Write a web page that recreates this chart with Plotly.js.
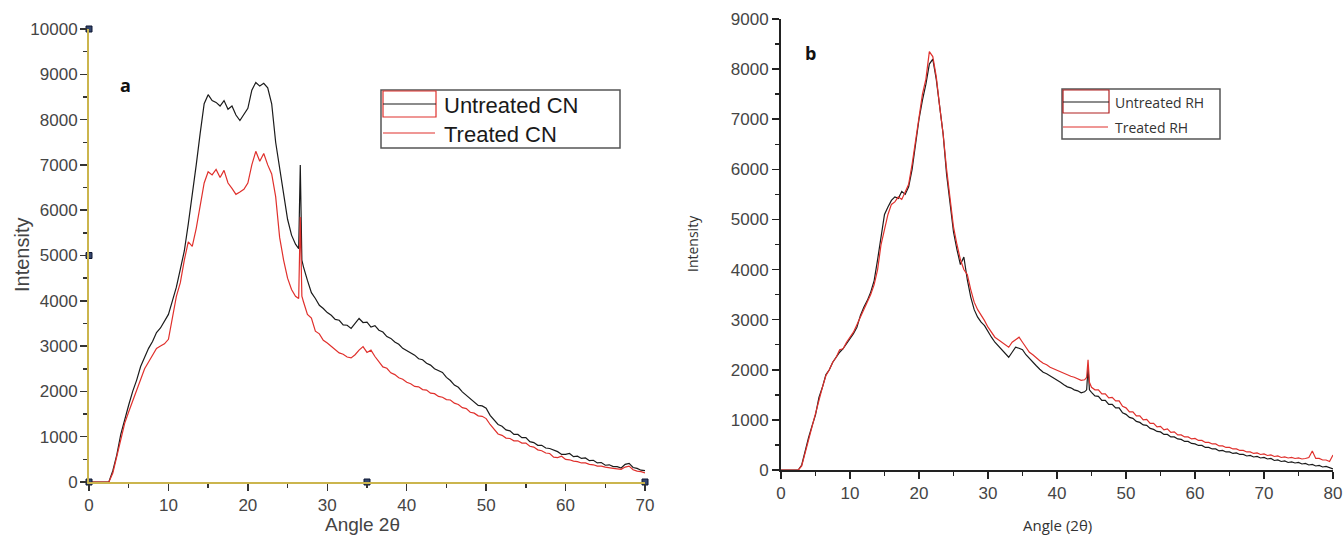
<!DOCTYPE html>
<html>
<head>
<meta charset="utf-8">
<script src="https://cdn.plot.ly/plotly-3.0.1.min.js"></script>
<style>html,body{margin:0;padding:0;background:#fff;}#chart{width:1343px;height:535px;}</style>
</head>
<body>
<div id="chart"></div>
<script>
// ---------- Panel a : CN ----------
const angleA = [0,0.5,1,1.5,2,2.5,3,3.5,4,4.5,5,5.5,6,6.5,7,7.5,8,8.5,9,9.5,10,10.5,11,11.5,12,12.5,13,13.5,14,14.5,15,15.5,16,16.5,17,17.5,18,18.5,19,19.5,20,20.5,21,21.5,22,22.5,23,23.5,24,24.5,25,25.5,26,26.4,26.6,26.8,27,27.5,28,28.5,29,29.5,30,30.5,31,31.5,32,32.5,33,33.5,34,34.5,35,35.5,36,36.5,37,37.5,38,38.5,39,39.5,40,40.5,41,41.5,42,42.5,43,43.5,44,44.5,45,45.5,46,46.5,47,47.5,48,48.5,49,49.5,50,50.5,51,51.5,52,52.5,53,53.5,54,54.5,55,55.5,56,56.5,57,57.5,58,58.5,59,59.5,60,60.5,61,61.5,62,62.5,63,63.5,64,64.5,65,65.5,66,66.5,67,67.5,68,68.5,69,69.5,70];
const untreatedCN = [0,0,0,0,0,0,250,600,1050,1400,1700,2000,2250,2550,2750,2950,3100,3300,3400,3550,3700,4000,4300,4700,5100,5700,6300,7000,7700,8350,8550,8420,8380,8300,8420,8230,8300,8100,7980,8120,8250,8650,8820,8740,8800,8700,8350,7500,6900,6400,5800,5450,5250,5150,7000,4900,4750,
  4450,4180,4050,3900,3830,3740,3680,3590,3570,3470,
  3460,3390,3500,3610,3520,3530,3420,3450,3350,3310,
  3210,3170,3090,3040,2950,2900,2840,2800,2720,2700,
  2620,2580,2500,2460,2420,2310,2240,2140,2090,1990,
  1920,1830,1780,1690,1680,1630,1470,1370,1270,1230,
  1150,1130,1050,1050,980,980,890,870,810,810,
  750,740,700,670,610,610,630,560,570,520,
  530,470,480,420,430,370,380,340,340,310,
  390,410,320,300,260,250];
const treatedCN = [0,0,0,0,0,0,200,550,950,1300,1550,1800,2050,2300,2500,2650,2800,2950,3000,3050,3150,3600,4100,4400,4900,5300,5200,5600,6100,6600,6850,6780,6900,6720,6880,6600,6480,6350,6400,6460,6600,7000,7300,7080,7250,7000,6800,6300,5400,4900,4500,4250,4100,4050,5850,4100,3980,
  3700,3620,3330,3270,3130,3070,2990,2910,2850,2820,
  2760,2740,2810,2910,2990,2860,2910,2770,2660,2540,
  2510,2410,2370,2300,2270,2200,2170,2110,2100,2040,
  2030,1960,1950,1890,1870,1820,1810,1740,1710,1640,
  1620,1540,1520,1460,1450,1400,1270,1160,1060,1030,
  970,960,910,910,860,860,790,770,710,690,
  640,630,550,540,570,500,490,460,450,420,
  420,390,380,350,350,330,310,300,290,280,
  330,350,270,240,230,200];
const handleX = [0,0,0,35,70];
const handleY = [10000,5000,0,0,0];

// ---------- Panel b : RH ----------
const angleB = [0,0.5,1,1.5,2,2.5,3,3.5,4,4.5,5,5.5,6,6.5,7,7.5,8,8.5,9,9.5,10,10.5,11,11.5,12,12.5,13,13.5,14,14.5,15,15.5,16,16.5,17,17.5,18,18.5,19,19.5,20,20.5,21,21.5,22,22.5,23,23.5,24,24.5,25,25.5,26,26.5,27,27.5,28,28.5,29,29.5,30,30.5,31,31.5,32,32.5,33,33.5,34,34.5,35,35.5,36,36.5,37,37.5,38,38.5,39,39.5,40,40.5,41,41.5,42,42.5,43,43.5,44,44.3,44.5,44.7,45,45.5,46,46.5,47,47.5,48,48.5,49,49.5,50,50.5,51,51.5,52,52.5,53,53.5,54,54.5,55,55.5,56,56.5,57,57.5,58,58.5,59,59.5,60,60.5,61,61.5,62,62.5,63,63.5,64,64.5,65,65.5,66,66.5,67,67.5,68,68.5,69,69.5,70,70.5,71,71.5,72,72.5,73,73.5,74,74.5,75,75.5,76,76.5,77,77.5,78,78.5,79,79.5,80];
const untreatedRH = [0,0,0,0,0,0,100,400,650,880,1100,1450,1650,1900,2000,2150,2250,2350,2420,2520,2600,2720,2850,3080,3250,3380,3550,3780,4200,4700,5100,5250,5380,5450,5420,5560,5500,5650,6000,6500,7000,7380,7700,8100,8200,7800,7200,6700,5900,5300,4750,4400,4100,4250,3800,3450,3200,3050,2950,2880,2750,2650,2550,2480,2400,2330,2250,2350,2450,2430,2400,2300,2220,2150,2080,2010,1950,1920,1880,1840,1800,1750,1700,1660,1640,1600,1580,1540,1560,1600,2050,1600,
  1550,1480,1470,1390,1390,1310,1310,1240,1240,1140,
  1110,1050,1030,970,950,900,890,830,810,770,
  760,710,710,660,660,620,610,570,570,530,
  520,490,490,450,450,420,420,380,390,360,
  360,330,340,310,310,280,290,260,270,240,
  250,220,230,190,200,170,180,150,160,140,
  150,120,130,100,110,80,90,60,70,40,
  20];
const treatedRH = [0,0,0,0,0,0,80,350,600,850,1100,1400,1650,1880,2000,2150,2250,2400,2420,2550,2650,2750,2900,3050,3200,3350,3500,3700,4000,4500,4800,5100,5300,5350,5450,5400,5550,5700,6100,6600,7100,7500,7800,8350,8250,7850,7250,6700,6000,5400,4850,4500,4200,4000,3900,3600,3350,3200,3100,2980,2850,2750,2650,2600,2550,2500,2450,2550,2600,2650,2550,2450,2350,2300,2230,2180,2130,2100,2050,2020,1980,1950,1930,1900,1870,1850,1820,1790,1800,1850,2200,1750,
  1650,1600,1600,1520,1520,1440,1450,1380,1380,1270,
  1240,1160,1160,1080,1080,1000,1010,930,930,860,
  870,800,820,750,760,700,700,660,660,620,
  630,590,590,550,550,520,520,480,480,450,
  450,420,420,390,390,360,360,330,340,310,
  320,290,300,270,280,250,260,240,250,230,
  240,220,230,250,380,230,230,200,200,170,
  300];

const seriesNames = ['Untreated CN','Treated CN','Untreated RH','Treated RH'];

// ---------- helpers (layout positions in pixels -> paper) ----------
const W = 1343, H = 535;
const px = v => v / W;
const py = v => 1 - v / H;

const BLACK = '#1b1b1b', RED = '#e0302c';

const traces = [
  {x: angleA, y: untreatedCN, name: seriesNames[0], type: 'scatter', mode: 'lines', xaxis: 'x', yaxis: 'y',
   line: {color: BLACK, width: 1.2}, showlegend: false, hoverinfo: 'skip'},
  {x: angleA, y: treatedCN, name: seriesNames[1], type: 'scatter', mode: 'lines', xaxis: 'x', yaxis: 'y',
   line: {color: RED, width: 1.2}, showlegend: false, hoverinfo: 'skip'},
  {x: handleX, y: handleY, type: 'scatter', mode: 'markers', xaxis: 'x', yaxis: 'y', cliponaxis: false,
   marker: {symbol: 'square', size: 6, color: '#34466e', line: {color: '#0d1733', width: 1}}, showlegend: false, hoverinfo: 'skip'},
  {x: angleB, y: untreatedRH, name: seriesNames[2], type: 'scatter', mode: 'lines', xaxis: 'x2', yaxis: 'y2',
   line: {color: BLACK, width: 1.2}, showlegend: false, hoverinfo: 'skip'},
  {x: angleB, y: treatedRH, name: seriesNames[3], type: 'scatter', mode: 'lines', xaxis: 'x2', yaxis: 'y2',
   line: {color: RED, width: 1.2}, showlegend: false, hoverinfo: 'skip'}
];

const tickFont = {family: 'Liberation Sans, Arial, sans-serif', size: 17, color: '#454545'};
function axis(extra) {
  return Object.assign({
    showgrid: false, zeroline: false, showline: true, ticks: 'outside', ticklen: 7, tickwidth: 1.5,
    tickfont: tickFont, fixedrange: true, tickformat: 'd'
  }, extra);
}
const OLIVE = '#cbb54e';

const layout = {
  width: W, height: H,
  margin: {l: 0, r: 0, t: 0, b: 0},
  paper_bgcolor: '#ffffff', plot_bgcolor: '#ffffff',
  showlegend: false,
  xaxis: axis({domain: [px(89), px(645)], range: [0, 70], tick0: 0, dtick: 10, anchor: 'y',
    linecolor: OLIVE, linewidth: 2, tickcolor: '#333', ticklabelstandoff: 0,
    minor: {dtick: 5, tick0: 0, ticks: 'outside', ticklen: 4, tickwidth: 1.5, tickcolor: '#333', showgrid: false}}),
  yaxis: axis({domain: [py(482), py(29)], range: [0, 10000], tick0: 0, dtick: 1000, anchor: 'x',
    linecolor: OLIVE, linewidth: 2, tickcolor: '#333', ticklabelstandoff: -1,
    minor: {dtick: 500, tick0: 0, ticks: 'outside', ticklen: 4, tickwidth: 1.5, tickcolor: '#333', showgrid: false}}),
  xaxis2: axis({domain: [px(781), px(1333)], range: [0, 80], tick0: 0, dtick: 10, anchor: 'y2',
    linecolor: '#222', linewidth: 2, tickcolor: '#222', ticklabelstandoff: 0,
    minor: {dtick: 5, tick0: 0, ticks: 'outside', ticklen: 4, tickwidth: 1.5, tickcolor: '#222', showgrid: false}}),
  yaxis2: axis({domain: [py(470), py(19)], range: [0, 9000], tick0: 0, dtick: 1000, anchor: 'x2',
    linecolor: '#222', linewidth: 2, tickcolor: '#222',
    minor: {dtick: 500, tick0: 0, ticks: 'outside', ticklen: 4, tickwidth: 1.5, tickcolor: '#222', showgrid: false}}),
  shapes: [
    // legend a
    {type: 'rect', xref: 'paper', yref: 'paper', x0: px(381), x1: px(620), y0: py(148), y1: py(90), line: {color: '#555', width: 1.5}},
    {type: 'rect', xref: 'paper', yref: 'paper', x0: px(383), x1: px(436), y0: py(117), y1: py(91), line: {color: RED, width: 1.2}},
    {type: 'line', xref: 'paper', yref: 'paper', x0: px(383), x1: px(436), y0: py(104), y1: py(104), line: {color: BLACK, width: 1.2}},
    {type: 'line', xref: 'paper', yref: 'paper', x0: px(383), x1: px(435), y0: py(133), y1: py(133), line: {color: RED, width: 1.2}},
    // legend b
    {type: 'rect', xref: 'paper', yref: 'paper', x0: px(1062), x1: px(1220), y0: py(139), y1: py(89), line: {color: '#555', width: 1.5}},
    {type: 'rect', xref: 'paper', yref: 'paper', x0: px(1063), x1: px(1109), y0: py(113), y1: py(90), line: {color: '#b02020', width: 1.2}},
    {type: 'line', xref: 'paper', yref: 'paper', x0: px(1063), x1: px(1109), y0: py(102), y1: py(102), line: {color: BLACK, width: 1.2}},
    {type: 'line', xref: 'paper', yref: 'paper', x0: px(1063), x1: px(1108), y0: py(127), y1: py(127), line: {color: RED, width: 1.2}}
  ],
  annotations: [
    {text: seriesNames[0], xref: 'paper', yref: 'paper', x: px(442), y: py(105), xanchor: 'left', yanchor: 'middle', showarrow: false,
     font: {family: 'Liberation Sans, Arial, sans-serif', size: 22, color: '#1a1a1a'}},
    {text: seriesNames[1], xref: 'paper', yref: 'paper', x: px(442), y: py(134), xanchor: 'left', yanchor: 'middle', showarrow: false,
     font: {family: 'Liberation Sans, Arial, sans-serif', size: 22, color: '#1a1a1a'}},
    {text: seriesNames[2], xref: 'paper', yref: 'paper', x: px(1113), y: py(102), xanchor: 'left', yanchor: 'middle', showarrow: false,
     font: {family: 'Open Sans, sans-serif', size: 14, color: '#333'}},
    {text: seriesNames[3], xref: 'paper', yref: 'paper', x: px(1113), y: py(128), xanchor: 'left', yanchor: 'middle', showarrow: false,
     font: {family: 'Open Sans, sans-serif', size: 14, color: '#333'}},
    {text: '<b>a</b>', xref: 'paper', yref: 'paper', x: px(125), y: py(85), xanchor: 'center', yanchor: 'middle', showarrow: false,
     font: {family: 'Open Sans, sans-serif', size: 18, color: '#111'}},
    {text: '<b>b</b>', xref: 'paper', yref: 'paper', x: px(810), y: py(53), xanchor: 'center', yanchor: 'middle', showarrow: false,
     font: {family: 'Open Sans, sans-serif', size: 18, color: '#111'}},
    {text: 'Intensity', xref: 'paper', yref: 'paper', x: px(22), y: py(255), textangle: -90, xanchor: 'center', yanchor: 'middle', showarrow: false,
     font: {family: 'Liberation Sans, Arial, sans-serif', size: 20, color: '#444'}},
    {text: 'Angle 2θ', xref: 'paper', yref: 'paper', x: px(362), y: py(524), xanchor: 'center', yanchor: 'middle', showarrow: false,
     font: {family: 'Liberation Sans, Arial, sans-serif', size: 19, color: '#444'}},
    {text: 'Intensity', xref: 'paper', yref: 'paper', x: px(693), y: py(244), textangle: -90, xanchor: 'center', yanchor: 'middle', showarrow: false,
     font: {family: 'Open Sans, sans-serif', size: 14, color: '#333'}},
    {text: 'Angle (2θ)', xref: 'paper', yref: 'paper', x: px(1057), y: py(525), xanchor: 'center', yanchor: 'middle', showarrow: false,
     font: {family: 'Open Sans, sans-serif', size: 15, color: '#333'}}
  ]
};

Plotly.newPlot('chart', traces, layout, {staticPlot: true, displayModeBar: false});
</script>
</body>
</html>
